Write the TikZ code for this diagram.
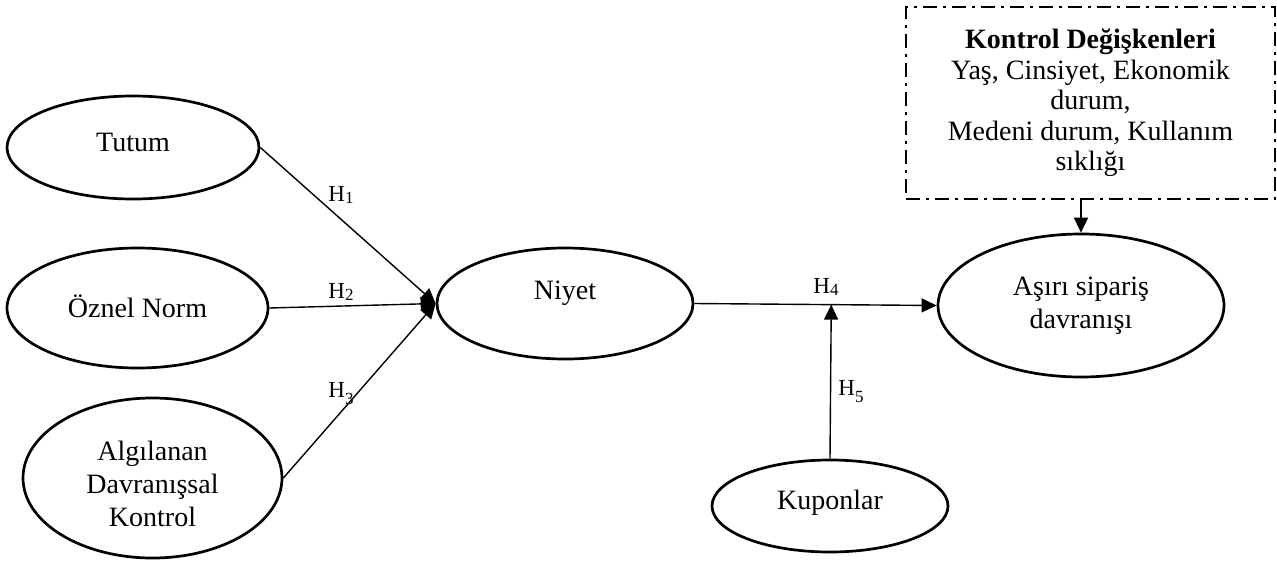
\documentclass[tikz,border=0pt]{standalone}
\usepackage{fontspec}
\setmainfont{Liberation Serif}
\usetikzlibrary{shapes.geometric,arrows.meta,calc}
\begin{document}
\begin{tikzpicture}[x=1pt,y=-1pt,
  ell/.style={draw,ellipse,line width=2.7pt,inner sep=0pt},
  txt/.style={font=\fontsize{28}{33}\selectfont,align=center,inner sep=0pt},
  lab/.style={font=\fontsize{23}{25}\selectfont,inner sep=0pt},
  conn/.style={line width=1.4pt,-{Triangle[length=15pt,width=14pt]}},
  ctrlbox/.style={draw,line width=2.7pt,dash pattern=on 14pt off 6pt on 3pt off 6pt,
    minimum width=369pt,minimum height=192pt,inner sep=0pt,align=center,
    font=\fontsize{28}{30.5}\selectfont}]
\useasboundingbox (0,0) rectangle (1277,562);
% ellipses
\node[ell,minimum width=252pt,minimum height=103pt] (tutum) at (133,147.5) {};
\node[ell,minimum width=261pt,minimum height=120pt] (oznel) at (137.5,308) {};
\node[ell,minimum width=259pt,minimum height=160pt] (adk) at (152.5,478) {};
\node[ell,minimum width=256pt,minimum height=111pt] (niyet) at (565,303.5) {};
\node[ell,minimum width=286pt,minimum height=143pt] (asiri) at (1081,305.5) {};
\node[ell,minimum width=236pt,minimum height=92pt] (kup) at (830,506) {};
% texts
\node[txt] (tTutum) at (133,142) {Tutum};
\node[txt] (tOznel) at (137.5,306) {Öznel Norm};
\node[txt] (tAdk) at (152.5,484) {Algılanan\\Davranışsal\\Kontrol};
\node[txt] (tNiyet) at (565,293) {Niyet};
\node[txt] (tAsiri) at (1081,306) {Aşırı sipariş\\davranışı};
\node[txt] (tKup) at (830,503) {Kuponlar};
% control box
\node[ctrlbox] (box) at (1090.5,103) {\textbf{Kontrol Değişkenleri}\\Yaş, Cinsiyet, Ekonomik\\durum,\\Medeni durum, Kullanım\\sıklığı};
% connectors
\draw[conn] (tutum.east) -- (niyet.west);
\draw[conn] (oznel.east) -- (niyet.west);
\draw[conn] (adk.east) -- (niyet.west);
\draw[conn] (niyet.east) -- (asiri.west);
\coordinate (mod) at ($(niyet.east)!(kup.north)!(asiri.west)$);
\draw[conn] (kup.north) -- (mod);
\draw[conn] (box.south -| asiri.north) -- (asiri.north);
% labels
\node[lab] (h1) at (341,195) {H\raisebox{-2pt}{\fontsize{17}{17}\selectfont 1}};
\node[lab] (h2) at (341,292) {H\raisebox{-2pt}{\fontsize{17}{17}\selectfont 2}};
\node[lab] (h3) at (341,394) {H\raisebox{-7pt}{\fontsize{17}{17}\selectfont 3}};
\node[lab] (h4) at (826,287) {H\raisebox{-2pt}{\fontsize{17}{17}\selectfont 4}};
\node[lab] (h5) at (851,392) {H\raisebox{-7pt}{\fontsize{17}{17}\selectfont 5}};
\end{tikzpicture}
\end{document}
